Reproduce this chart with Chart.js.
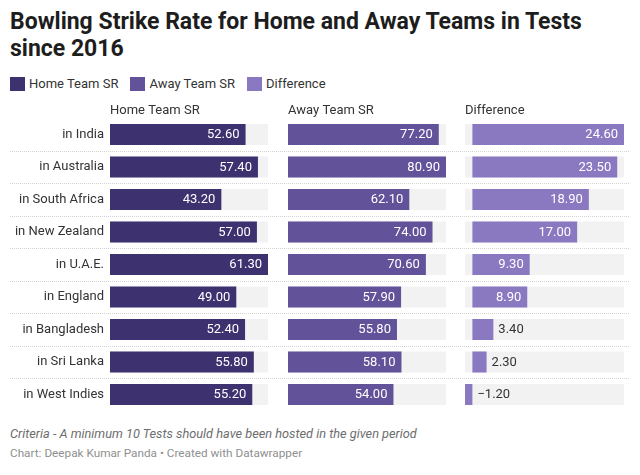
<!DOCTYPE html>
<html>
<head>
<meta charset="utf-8">
<script src="https://cdn.jsdelivr.net/npm/chart.js@4/dist/chart.umd.min.js"></script>
<style>
  body { margin: 0; background: #fff; font-family: Roboto, "Noto Sans", sans-serif; }
  #wrap { position: relative; width: 640px; height: 475px; overflow: hidden; }
  #titulo { position: absolute; left: 10px; top: 8px; margin: 0; font-size: 23px; line-height: 27px; font-weight: 700; color: #1d1d1d; }
  #legenda { position: absolute; left: 10px; top: 76px; display: flex; font-size: 13px; color: #333; line-height: 15px; }
  .item { display: flex; align-items: center; margin-right: 12px; }
  .cor { width: 15px; height: 14px; margin-right: 4px; }
  #grafico { position: absolute; left: 0; top: 96px; width: 640px; height: 320px; }
  #nota { position: absolute; left: 10px; top: 426px; font-size: 12.75px; font-style: italic; color: #6d6d6d; }
  #credito { position: absolute; left: 10px; top: 446px; font-size: 11.75px; color: #8f8f8f; }
</style>
</head>
<body>
<div id="wrap">
  <h1 id="titulo">Bowling Strike Rate for Home and Away Teams in Tests<br>since 2016</h1>
  <div id="legenda"></div>
  <div id="grafico"><canvas id="cv"></canvas></div>
  <div id="nota">Criteria - A minimum 10 Tests should have been hosted in the given period</div>
  <div id="credito">Chart: Deepak Kumar Panda • Created with Datawrapper</div>
</div>
<script>
const paises = ["in India", "in Australia", "in South Africa", "in New Zealand", "in U.A.E.",
  "in England", "in Bangladesh", "in Sri Lanka", "in West Indies"];
const homeSR = [52.6, 57.4, 43.2, 57.0, 61.3, 49.0, 52.4, 55.8, 55.2];
const awaySR = [77.2, 80.9, 62.1, 74.0, 70.6, 57.9, 55.8, 58.1, 54.0];
const diferenca = [24.6, 23.5, 18.9, 17.0, 9.3, 8.9, 3.4, 2.3, -1.2];
const nomesSeries = ["Home Team SR", "Away Team SR", "Difference"];
const cores = ["#3d3170", "#62529a", "#8a79c1"];
const FUNDO = "#f2f2f2";

// legenda em HTML, como no Datawrapper
const legenda = document.getElementById("legenda");
nomesSeries.forEach((nome, i) => {
  const item = document.createElement("div");
  item.className = "item";
  const box = document.createElement("span");
  box.className = "cor";
  box.style.backgroundColor = cores[i];
  item.appendChild(box);
  item.appendChild(document.createTextNode(nome));
  legenda.appendChild(item);
});

// largura de cada coluna (barra + espaço até a próxima)
const COL = 158, GAP = 20;
const maxHome = Math.max(...homeSR);
const maxAway = Math.max(...awaySR);
const minDif = Math.min(...diferenca);
const maxDif = Math.max(...diferenca);

function formatar(v) {
  return v.toFixed(2).replace("-", "\u2212");
}

// linhas pontilhadas entre as linhas da tabela
const separadores = {
  id: "separadores",
  beforeDatasetsDraw(chart) {
    const y = chart.scales.y;
    const ctx = chart.ctx;
    const passo = y.getPixelForValue(1) - y.getPixelForValue(0);
    ctx.save();
    ctx.strokeStyle = "#d4d4d4";
    ctx.lineWidth = 1;
    ctx.setLineDash([1, 1]);
    for (let i = 0; i < paises.length - 1; i++) {
      const py = Math.round(y.getPixelForValue(i) + passo / 2) + 0.5;
      ctx.beginPath();
      ctx.moveTo(10, py);
      ctx.lineTo(629, py);
      ctx.stroke();
    }
    ctx.restore();
  }
};

// rótulos dos valores dentro/fora das barras
const rotulos = {
  id: "rotulos",
  afterDatasetsDraw(chart) {
    const ctx = chart.ctx;
    ctx.save();
    ctx.font = "13px Roboto";
    ctx.textBaseline = "middle";
    chart.data.datasets.forEach((ds, di) => {
      if (ds.fundo) return;
      const meta = chart.getDatasetMeta(di);
      meta.data.forEach((bar, i) => {
        const texto = formatar(ds.data[i]);
        const larg = ctx.measureText(texto).width;
        const esq = Math.min(bar.x, bar.base);
        const dir = Math.max(bar.x, bar.base);
        if (dir - esq > larg + 12) {
          ctx.fillStyle = "#ffffff";
          ctx.textAlign = "right";
          ctx.fillText(texto, dir - 6, bar.y + 0.5);
        } else {
          ctx.fillStyle = "#333333";
          ctx.textAlign = "left";
          ctx.fillText(texto, dir + 5, bar.y + 0.5);
        }
      });
    });
    ctx.restore();
  }
};

function eixo(titulo, ordem, peso, min, max) {
  return {
    type: "linear",
    axis: "x",
    position: "top",
    stack: "colunas",
    weight: ordem,
    stackWeight: peso,
    min: min,
    max: max,
    ticks: { display: false },
    grid: { display: false, drawTicks: false },
    border: { display: false },
    title: {
      display: true,
      text: titulo,
      align: "start",
      color: "#333",
      font: { family: "Roboto", size: 13 },
      padding: { top: 2, bottom: 0 }
    }
  };
}

const comum = { grouped: false, barPercentage: 0.65, categoryPercentage: 1, borderWidth: 0 };

new Chart(document.getElementById("cv"), {
  type: "bar",
  data: {
    labels: paises,
    datasets: [
      { ...comum, data: homeSR, backgroundColor: cores[0], xAxisID: "xHome", order: 0 },
      { ...comum, data: homeSR.map(() => maxHome), backgroundColor: FUNDO, xAxisID: "xHome", order: 1, fundo: true },
      { ...comum, data: awaySR, backgroundColor: cores[1], xAxisID: "xAway", order: 0 },
      { ...comum, data: awaySR.map(() => maxAway), backgroundColor: FUNDO, xAxisID: "xAway", order: 1, fundo: true },
      { ...comum, data: diferenca, backgroundColor: cores[2], xAxisID: "xDif", order: 0 },
      { ...comum, data: diferenca.map(() => [minDif, maxDif]), backgroundColor: FUNDO, xAxisID: "xDif", order: 1, fundo: true }
    ]
  },
  options: {
    indexAxis: "y",
    responsive: true,
    maintainAspectRatio: false,
    animation: false,
    layout: { padding: { top: 4.65, right: 16, bottom: 5.25, left: 0 } },
    plugins: { legend: { display: false }, tooltip: { enabled: false } },
    scales: {
      xHome: eixo(nomesSeries[0], 3, COL + GAP, 0, maxHome * (COL + GAP) / COL),
      xAway: eixo(nomesSeries[1], 2, COL + GAP - 1, 0, maxAway * (COL + GAP - 1) / COL),
      xDif: eixo(nomesSeries[2], 1, COL + 1, minDif, maxDif),
      y: {
        type: "category",
        grid: { display: false, drawTicks: false },
        border: { display: false },
        ticks: { color: "#333", font: { family: "Roboto", size: 13 }, padding: 6 },
        afterFit(s) {
          s.width = 110;
          s.paddingTop = 0;
          s.paddingBottom = 0;
        }
      }
    }
  },
  plugins: [separadores, rotulos]
});
</script>
</body>
</html>
